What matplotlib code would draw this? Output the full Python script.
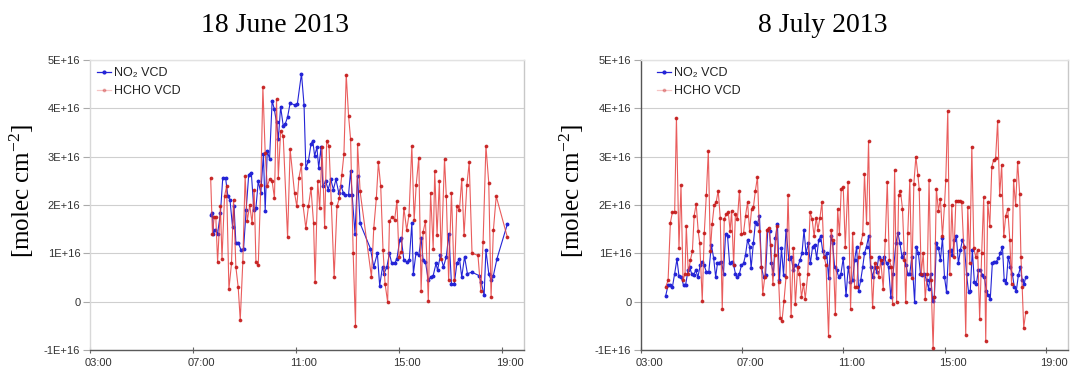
import matplotlib
matplotlib.use('Agg')
import matplotlib.pyplot as plt
import matplotlib.transforms as mtransforms
from matplotlib.ticker import FixedLocator, FuncFormatter
from matplotlib.lines import Line2D
from matplotlib.font_manager import FontProperties

# ---------------- data (times in decimal hours, VCD in units of 1E+16 molec cm-2) ----------------
VCD_UNIT = 1e16

jun18_no2_time = [7.69, 7.76, 7.80, 7.87, 7.96, 8.07, 8.16, 8.27, 8.36, 8.44,
                  8.54, 8.60, 8.67, 8.76, 8.87, 8.97, 9.07, 9.17, 9.27, 9.37,
                  9.45, 9.54, 9.64, 9.74, 9.81, 9.89, 9.98, 10.08, 10.16, 10.25,
                  10.32, 10.41, 10.51, 10.59, 10.68, 10.78, 10.95, 11.06, 11.22, 11.32,
                  11.39, 11.49, 11.59, 11.66, 11.73, 11.82, 11.89, 11.98, 12.05, 12.16,
                  12.26, 12.36, 12.46, 12.56, 12.67, 12.76, 12.85, 12.93, 13.05, 13.13,
                  13.19, 13.30, 13.40, 13.50, 13.90, 14.03, 14.17, 14.26, 14.37, 14.43,
                  14.54, 14.64, 14.73, 14.84, 14.93, 15.04, 15.10, 15.20, 15.31, 15.41,
                  15.51, 15.57, 15.67, 15.78, 15.87, 15.95, 16.04, 16.15, 16.24, 16.34,
                  16.45, 16.51, 16.62, 16.74, 16.85, 16.95, 17.05, 17.16, 17.26, 17.36,
                  17.45, 17.56, 17.67, 17.85, 18.12, 18.21, 18.32, 18.39, 18.50, 18.59,
                  18.68, 18.82, 19.22]
jun18_no2_vcd = [1.80, 1.83, 1.41, 1.48, 1.41, 1.83, 2.56, 2.56, 2.18, 2.11,
                 1.55, 1.97, 1.22, 1.22, 1.07, 1.10, 1.90, 2.63, 2.67, 1.90,
                 1.94, 2.49, 2.25, 3.05, 1.88, 3.12, 2.95, 4.16, 3.99, 3.71,
                 3.36, 4.03, 3.64, 3.68, 3.82, 4.11, 4.07, 4.09, 4.72, 4.07,
                 2.77, 2.91, 3.26, 3.33, 3.02, 3.19, 2.77, 3.19, 2.39, 2.49,
                 2.32, 2.53, 2.32, 2.53, 2.25, 2.39, 2.25, 2.21, 2.21, 2.70,
                 2.21, 1.41, 2.60, 1.62, 1.10, 0.72, 1.00, 0.33, 0.72, 0.58,
                 0.72, 1.00, 0.79, 0.79, 0.89, 1.27, 1.31, 0.86, 0.82, 0.86,
                 1.62, 0.58, 1.00, 0.96, 1.31, 0.86, 0.82, 0.44, 0.51, 0.54,
                 0.79, 0.65, 0.96, 0.72, 0.93, 1.41, 0.37, 0.37, 0.79, 0.89,
                 0.51, 0.93, 0.58, 0.61, 0.54, 0.40, 0.13, 1.07, 0.58, 0.44,
                 0.54, 0.89, 1.60]

jun18_hcho_time = [7.69, 7.76, 7.83, 7.89, 7.96, 8.07, 8.13, 8.23, 8.31, 8.40,
                   8.50, 8.58, 8.67, 8.76, 8.84, 8.94, 9.03, 9.11, 9.21, 9.30,
                   9.38, 9.45, 9.54, 9.64, 9.72, 9.81, 9.89, 9.98, 10.08, 10.17,
                   10.25, 10.32, 10.41, 10.51, 10.68, 10.78, 10.95, 11.04, 11.12, 11.22,
                   11.28, 11.39, 11.49, 11.59, 11.69, 11.75, 11.85, 11.93, 12.02, 12.12,
                   12.20, 12.29, 12.38, 12.49, 12.60, 12.69, 12.79, 12.87, 12.96, 13.05,
                   13.13, 13.23, 13.32, 13.40, 13.50, 13.94, 14.03, 14.13, 14.21, 14.30,
                   14.39, 14.47, 14.57, 14.64, 14.74, 14.84, 14.93, 15.01, 15.10, 15.20,
                   15.31, 15.40, 15.51, 15.60, 15.68, 15.78, 15.87, 15.95, 16.04, 16.15,
                   16.24, 16.34, 16.40, 16.49, 16.58, 16.65, 16.78, 16.85, 16.94, 17.05,
                   17.16, 17.26, 17.36, 17.45, 17.54, 17.65, 17.74, 17.85, 18.08, 18.19,
                   18.28, 18.39, 18.50, 18.59, 18.68, 18.79, 19.22]
jun18_hcho_vcd = [2.56, 1.41, 1.76, 1.76, 0.82, 1.97, 0.89, 2.18, 2.39, 0.26,
                  0.79, 2.11, 0.72, 0.30, -0.38, 0.82, 2.60, 1.66, 2.00, 1.62,
                  2.32, 0.82, 0.75, 2.42, 4.44, 3.08, 2.39, 2.53, 2.49, 2.14,
                  4.19, 2.56, 3.53, 3.43, 1.33, 3.15, 2.25, 1.97, 2.56, 2.84,
                  2.00, 1.52, 1.97, 2.35, 1.62, 0.40, 2.49, 1.94, 3.19, 1.55,
                  3.33, 3.22, 2.04, 0.51, 1.97, 2.14, 2.63, 3.05, 4.70, 3.85,
                  3.36, 1.00, -0.50, 3.26, 2.28, 0.51, 1.52, 2.14, 2.88, 2.39,
                  1.07, 0.37, -0.01, 1.66, 1.76, 1.69, 2.08, 0.93, 1.03, 1.94,
                  1.48, 1.80, 3.22, 1.69, 2.42, 2.98, 0.23, 1.45, 1.66, 0.02,
                  2.25, 1.10, 2.70, 1.38, 2.49, 0.89, 2.95, 2.18, 0.44, 2.25,
                  0.44, 1.97, 1.90, 2.53, 1.38, 2.42, 2.88, 1.00, 0.96, 0.23,
                  1.24, 3.22, 2.46, 0.09, 1.48, 2.18, 1.34]

jul08_no2_time = [3.97, 4.07, 4.16, 4.24, 4.33, 4.42, 4.50, 4.59, 4.68, 4.76,
                  4.86, 4.92, 5.00, 5.08, 5.16, 5.25, 5.34, 5.42, 5.49, 5.58,
                  5.68, 5.78, 5.87, 5.95, 6.02, 6.10, 6.18, 6.26, 6.34, 6.42,
                  6.50, 6.58, 6.66, 6.73, 6.81, 6.89, 6.97, 7.05, 7.13, 7.21,
                  7.29, 7.35, 7.44, 7.52, 7.60, 7.68, 7.76, 7.84, 7.92, 8.01,
                  8.08, 8.15, 8.23, 8.31, 8.39, 8.47, 8.55, 8.63, 8.73,
                  8.84, 8.93, 9.02, 9.10, 9.19, 9.28, 9.36, 9.44, 9.52, 9.61,
                  9.69, 9.78, 9.86, 9.94, 10.02, 10.10, 10.18, 10.26, 10.34, 10.41,
                  10.51, 10.57, 10.65, 10.73, 10.81, 10.90, 10.99, 11.10, 11.19, 11.27,
                  11.36, 11.44, 11.52, 11.60, 11.68, 11.76, 11.83, 11.91, 11.99, 12.07,
                  12.15, 12.23, 12.31, 12.39, 12.47, 12.54, 12.62, 12.70, 12.78, 12.87,
                  12.96, 13.07, 13.15, 13.23, 13.31, 13.39, 13.46, 13.54, 13.62, 13.70,
                  13.81, 13.88,
                  13.96, 14.04, 14.12, 14.20, 14.28, 14.36, 14.44, 14.52, 14.59, 14.67,
                  14.75, 14.83, 14.91, 14.99, 15.07, 15.15, 15.23, 15.30, 15.38, 15.46,
                  15.54, 15.62, 15.70, 15.78, 15.86, 15.94, 16.01, 16.09, 16.17, 16.25,
                  16.33, 16.41, 16.49, 16.57, 16.64, 16.72, 16.80, 16.88, 16.96, 17.04,
                  17.12, 17.20, 17.28, 17.35, 17.43, 17.51, 17.59, 17.67, 17.75, 17.83,
                  17.91, 17.99, 18.06, 18.14, 18.20]
jul08_no2_vcd = [0.11, 0.34, 0.34, 0.30, 0.58, 0.88, 0.53, 0.51, 0.34, 0.34,
                 0.65, 0.72, 0.58, 0.55, 0.65, 0.51, 0.76, 0.83, 0.76, 0.62,
                 0.62, 1.18, 0.90, 0.51, 0.79, 0.81, 0.83, 0.58, 1.39, 1.35,
                 0.79, 0.83, 0.76, 0.58, 0.51, 0.58, 0.76, 0.79, 0.97, 1.28,
                 1.14, 0.69, 1.21, 1.64, 1.60, 1.78, 0.72, 0.51, 0.55, 1.49,
                 1.46, 0.79, 0.58, 1.32, 1.60, 0.44, 1.11, 0.55, 1.49,
                 0.88, 0.93, 0.65, 0.76, 0.72, 0.86, 1.00, 1.48, 1.00, 1.21,
                 0.79, 1.14, 1.18, 0.90, 1.28, 1.35, 1.04, 0.93, 1.00, 0.48,
                 1.35, 1.21, 0.72, 0.65, 0.51, 0.58, 0.90, 0.13, 0.72, 0.41,
                 0.44, 0.86, 1.14, 0.23, 0.44, 0.72, 1.00, 1.14, 1.35, 0.72,
                 0.51, 0.72, 0.62, 0.93, 0.86, 0.79, 0.93, 0.79, 0.72, 0.09,
                 0.58, 1.21, 1.42, 1.21, 0.93, 1.00, 0.76, 0.58, 0.58, 0.93,
                 -0.01, 1.14,
                 1.00, 0.58, 0.55, 0.57, 0.44, 0.27, 0.58, 0.02, 0.09, 1.21,
                 1.11, 0.86, 1.32, 0.51, 0.20, 1.04, 1.07, 0.97, 1.28, 1.35,
                 0.79, 1.07, 1.28, 1.14, 0.58, 0.20, 0.23, 1.07, 0.41, 0.37,
                 0.65, 0.65, 0.55, 0.51, 0.23, 0.13, 0.06, 0.79, 0.83, 0.83,
                 0.90, 1.00, 1.14, 0.44, 0.39, 0.93, 0.72, 0.58, 0.30, 0.23,
                 0.55, 0.72, 0.44, 0.37, 0.51]

jul08_hcho_time = [3.97, 4.07, 4.16, 4.24, 4.33, 4.40, 4.50, 4.58, 4.66, 4.74,
                   4.79, 4.87, 4.95, 5.03, 5.10, 5.18, 5.26, 5.32, 5.42, 5.50,
                   5.58, 5.66, 5.74, 5.81, 5.89, 5.97, 6.05, 6.13, 6.21, 6.29,
                   6.37, 6.45, 6.52, 6.58, 6.66, 6.73, 6.81, 6.89, 6.97, 7.05,
                   7.13, 7.21, 7.29, 7.37, 7.44, 7.52, 7.60, 7.68, 7.76, 7.81,
                   7.89, 7.97, 8.05, 8.13, 8.21, 8.29, 8.36, 8.44, 8.50, 8.57,
                   8.65, 8.73, 8.81,
                   8.93, 9.02, 9.10, 9.19, 9.26, 9.34, 9.42, 9.49, 9.59, 9.68,
                   9.76, 9.84, 9.92, 9.99, 10.07, 10.15, 10.23, 10.31, 10.41, 10.51,
                   10.57, 10.68, 10.77, 10.84, 10.91, 10.99, 11.07, 11.18, 11.28, 11.36,
                   11.44, 11.52, 11.60, 11.68, 11.76, 11.83, 11.91, 11.99, 12.07, 12.15,
                   12.23, 12.31, 12.39, 12.47, 12.57, 12.65, 12.73, 12.81, 12.89, 12.94,
                   13.02, 13.10, 13.18, 13.25, 13.33, 13.41, 13.46, 13.54, 13.62, 13.70,
                   13.78, 13.86, 13.94,
                   13.99, 14.07, 14.15, 14.23, 14.31, 14.38, 14.46, 14.54, 14.59, 14.67,
                   14.75, 14.83, 14.91, 14.99, 15.04, 15.12, 15.20, 15.28, 15.36, 15.44,
                   15.51, 15.59, 15.67, 15.75, 15.83, 15.91, 15.99, 16.07, 16.15, 16.22,
                   16.30, 16.38, 16.46, 16.54, 16.62, 16.70, 16.78, 16.86, 16.93, 17.01,
                   17.09, 17.17, 17.25, 17.33, 17.41, 17.49, 17.57, 17.64, 17.72, 17.80,
                   17.88, 17.96, 18.01, 18.06, 18.12, 18.20]
jul08_hcho_vcd = [0.30, 0.44, 1.63, 1.85, 1.85, 3.81, 1.11, 2.41, 0.44, 0.58,
                  1.56, 0.58, 0.86, 1.04, 1.78, 2.02, 1.46, 1.21, 0.02, 1.42,
                  2.20, 3.12, 1.04, 1.60, 1.99, 2.06, 2.30, 1.74, -0.15, 1.71,
                  1.81, 1.85, 1.46, 1.88, 0.76, 1.81, 1.71, 2.30, 1.39, 1.42,
                  1.78, 2.06, 1.46, 1.92, 1.95, 2.30, 2.58, 1.46, 0.72, 0.16,
                  0.51, 1.49, 1.53, 1.18, 0.37, 0.97, 1.56, 0.41, -0.33, -0.40,
                  0.02, 0.51, 2.20,
                  -0.29, 1.11, -0.05, 0.72, 0.58, 0.09, 0.37, 0.06, 0.58, 1.85,
                  1.71, 1.35, 1.74, 1.49, 1.74, 2.06, 0.93, 0.76, -0.72, 1.49,
                  1.28, -0.26, 1.92, 1.39, 2.34, 2.37, 1.14, 2.48, -0.15, 1.42,
                  0.30, 0.30, 0.93, 1.21, 1.39, 2.65, 1.63, 3.32, 0.93, -0.12,
                  0.79, 0.72, 0.51, 0.86, 0.27, 1.28, 2.48, 0.86, 0.72, -0.05,
                  2.72, -0.01, 2.20, 2.30, 1.92, 0.86, -0.01, 1.42, 2.51, 0.48,
                  2.44, 3.00, 2.62,
                  2.34, 0.58, 1.00, 0.06, 0.58, 2.51, 0.44, -0.96, 0.09, 2.34,
                  1.88, 2.13, 1.35, 1.99, 2.51, 3.95, 0.58, 1.99, 0.93, 2.09,
                  2.09, 2.09, 2.06, 1.14, -0.68, 1.95, 0.79, 3.21, 1.11, 0.93,
                  1.07, -0.36, 1.00, 2.16, -0.82, 2.06, 1.56, 2.79, 2.93, 2.97,
                  3.74, 2.20, 2.83, 1.35, 1.78, 1.92, 1.28, 0.37, 2.51, 1.99,
                  2.90, 2.23, 0.93, 0.30, -0.54, -0.22]

panel_titles = ['18 June 2013', '8 July 2013']
series_labels = ['NO\u2082 VCD', 'HCHO VCD']
y_tick_values = [-1, 0, 1, 2, 3, 4, 5]
x_tick_hours = [3, 7, 11, 15, 19]
x_tick_labels = ['03:00', '07:00', '11:00', '15:00', '19:00']

# ---------------- styling ----------------
plt.rcParams['mathtext.fontset'] = 'custom'
plt.rcParams['mathtext.rm'] = 'Liberation Serif'
plt.rcParams['mathtext.it'] = 'Liberation Serif:italic'
plt.rcParams['mathtext.default'] = 'rm'

BLUE = '#2424d6'
RED = '#e64040'
RED_MARK = '#c41a1a'
W, H = 1072, 372

fig = plt.figure(figsize=(W / 100, H / 100), dpi=100)
fig.patch.set_facecolor('white')


def px_axes(l, t, r, b):
    return fig.add_axes([l / W, 1 - b / H, (r - l) / W, (b - t) / H])


ax1 = px_axes(90, 60, 524, 350)
ax2 = px_axes(641, 60, 1068, 350)

datasets = [
    (ax1, jun18_no2_time, jun18_no2_vcd, jun18_hcho_time, jun18_hcho_vcd, '#d8d8d8', 0.016),
    (ax2, jul08_no2_time, jul08_no2_vcd, jul08_hcho_time, jul08_hcho_vcd, '#555555', 0.037),
]

sans = FontProperties(family=['Liberation Sans', 'DejaVu Sans'], size=9)

for ax, nt, nv, ht, hv, left_col, leg_x in datasets:
    ax.plot(nt, [v * VCD_UNIT for v in nv], color=BLUE, lw=0.8, marker='o', ms=1.8,
            mec=BLUE, mfc=BLUE, zorder=3)
    ax.plot(ht, [v * VCD_UNIT for v in hv], color=RED, lw=0.8, alpha=0.85, marker='o', ms=1.7,
            mec=RED_MARK, mfc=RED_MARK, zorder=4)

    ax.set_xlim(3, 19.87)
    ax.set_ylim(-1 * VCD_UNIT, 5 * VCD_UNIT)
    ax.yaxis.set_major_locator(FixedLocator([v * VCD_UNIT for v in y_tick_values]))
    ax.yaxis.set_major_formatter(FuncFormatter(
        lambda v, p: '0' if round(v / VCD_UNIT) == 0 else f'{int(round(v / VCD_UNIT))}E+16'))
    ax.xaxis.set_major_locator(FixedLocator(x_tick_hours))
    ax.set_xticklabels(x_tick_labels)

    ax.grid(axis='y', color='#cfcfcf', lw=0.8, zorder=0)
    ax.set_axisbelow(True)

    for side, col in (('top', '#e2e2e2'), ('right', '#c8c8c8'), ('left', left_col),
                      ('bottom', '#5a5a5a')):
        ax.spines[side].set_color(col)
        ax.spines[side].set_linewidth(1.0)

    ax.tick_params(axis='x', direction='inout', length=5, width=0.8, color='#666666',
                   labelsize=8, labelcolor='#333333', pad=3)
    ax.tick_params(axis='y', direction='out', length=5, width=0.8, color='#aaaaaa',
                   labelsize=8, labelcolor='#333333', pad=2)
    for lab in ax.get_xticklabels() + ax.get_yticklabels():
        lab.set_fontfamily('Liberation Sans')
    offset = mtransforms.ScaledTranslation(8 / 100, 0, fig.dpi_scale_trans)
    for lab in ax.get_xticklabels():
        lab.set_transform(lab.get_transform() + offset)

    handles = [
        Line2D([], [], color=BLUE, lw=0.9, marker='o', ms=2.0),
        Line2D([], [], color=RED, lw=0.9, alpha=0.3, marker='o', ms=1.8,
               mec=RED_MARK, mfc=RED_MARK),
    ]
    leg = ax.legend(handles, series_labels, loc='upper left', bbox_to_anchor=(leg_x, 0.975),
                    frameon=False, prop=sans, borderpad=0, borderaxespad=0,
                    handlelength=1.1, handletextpad=0.3, labelspacing=0.45)
    for t in leg.get_texts():
        t.set_color('#222222')

# titles and y labels
fig.text(275 / W, 1 - 26 / H, panel_titles[0], ha='center', va='center',
         family='Liberation Serif', fontsize=20)
fig.text(823 / W, 1 - 26 / H, panel_titles[1], ha='center', va='center',
         family='Liberation Serif', fontsize=20)
for xc in (22, 572):
    fig.text(xc / W, 1 - 191 / H, r'[molec cm$^{\mathregular{-2}}$]', rotation=90,
             ha='center', va='center', family='Liberation Serif', fontsize=18)

fig.savefig('out.png', dpi=100, facecolor='white')
